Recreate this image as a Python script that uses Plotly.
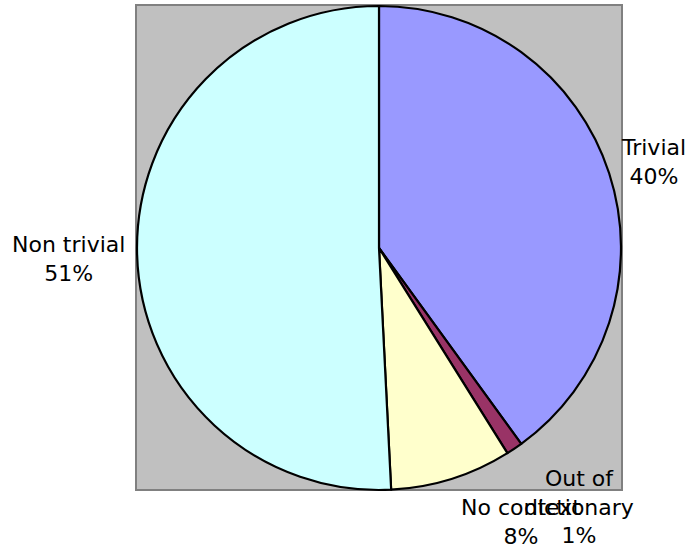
import plotly.graph_objects as go

labels = ["Trivial", "Out of dictionary", "No context", "Non trivial"]
label_text = ["Trivial", "Out of<br>dictionary", "No context", "Non trivial"]
values = [40, 1.1, 8.1, 50.8]
colors = ["#9999FF", "#993366", "#FFFFCC", "#CCFFFF"]

W, H = 688, 550
# label anchor positions (pixels) for text annotations
label_pos = [(653, 162), (579, 507), (521, 522), (68, 259)]

fig = go.Figure()
fig.add_trace(go.Pie(
    labels=labels, values=values, sort=False, direction="clockwise", rotation=0,
    marker=dict(colors=colors, line=dict(color="black", width=2.2)),
    textinfo="none", hoverinfo="label+percent", showlegend=False,
    domain=dict(x=[137 / W, 621 / W], y=[1 - 490 / H, 1 - 6 / H]),
))

fig.add_shape(type="rect", xref="paper", yref="paper",
              x0=136 / W, x1=622 / W, y0=1 - 490 / H, y1=1 - 5 / H,
              fillcolor="#C0C0C0", line=dict(color="#808080", width=2), layer="below")

total = sum(values)
for txt, v, (px, py) in zip(label_text, values, label_pos):
    fig.add_annotation(x=px / W, y=1 - py / H, xref="paper", yref="paper",
                       text=f"{txt}<br>{round(v / total * 100)}%", showarrow=False,
                       xanchor="center", yanchor="middle", align="center",
                       font=dict(family="DejaVu Sans", size=22, color="black"))

fig.update_layout(width=W, height=H, margin=dict(l=0, r=0, t=0, b=0),
                  paper_bgcolor="white", plot_bgcolor="white")
fig.write_html("out.html")
